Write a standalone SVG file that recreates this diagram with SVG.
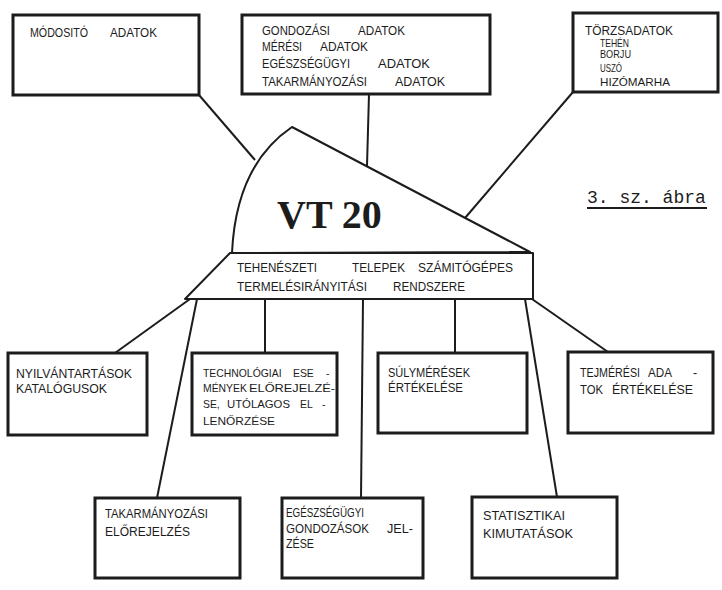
<svg xmlns="http://www.w3.org/2000/svg" width="722" height="590" viewBox="0 0 722 590">
<style>
.box{fill:#fff;stroke:#1c1c1c;stroke-width:3}
.shape{fill:#fff;stroke:#1c1c1c;stroke-width:2;stroke-linejoin:round}
.conn{stroke:#1c1c1c;stroke-width:2;fill:none}
text{font-family:"Liberation Sans",Arial,sans-serif;font-size:12.5px;fill:#1c1c1c}
.sm{font-size:11.5px}
.tc{font-size:10.4px}
.vt{font-family:"Liberation Serif","Times New Roman",serif;font-size:40px;font-weight:bold}
.cap{font-family:"Liberation Mono","Courier New",monospace;font-size:18px}
</style>
<rect width="722" height="590" fill="#fff"/>
<g id="connectors">
<line class="conn" x1="199" y1="95" x2="255" y2="160"/>
<line class="conn" x1="369" y1="94" x2="367" y2="166"/>
<line class="conn" x1="573" y1="92" x2="465" y2="218"/>
<line class="conn" x1="190" y1="299" x2="115" y2="353"/>
<line class="conn" x1="197" y1="299" x2="157" y2="498"/>
<line class="conn" x1="265" y1="299" x2="265" y2="353"/>
<line class="conn" x1="363" y1="299" x2="361" y2="498"/>
<line class="conn" x1="455" y1="299" x2="455" y2="353"/>
<line class="conn" x1="525" y1="299" x2="557" y2="497"/>
<line class="conn" x1="532" y1="299" x2="608" y2="352"/>
</g>
<g id="modosito">
<rect class="box" x="13" y="15" width="186" height="80"/>
<text x="30" y="37" textLength="58" lengthAdjust="spacingAndGlyphs">MÓDOSITÓ</text>
<text x="110" y="37" textLength="47" lengthAdjust="spacingAndGlyphs">ADATOK</text>
</g>
<g id="gondozasi">
<rect class="box" x="242" y="15" width="248" height="79"/>
<text x="262" y="35" textLength="68" lengthAdjust="spacingAndGlyphs">GONDOZÁSI</text>
<text x="358" y="35" textLength="47" lengthAdjust="spacingAndGlyphs">ADATOK</text>
<text x="262" y="51" textLength="40" lengthAdjust="spacingAndGlyphs">MÉRÉSI</text>
<text x="320" y="51" textLength="48" lengthAdjust="spacingAndGlyphs">ADATOK</text>
<text x="262" y="68" textLength="88" lengthAdjust="spacingAndGlyphs">EGÉSZSÉGÜGYI</text>
<text x="378" y="68" textLength="52" lengthAdjust="spacingAndGlyphs">ADATOK</text>
<text x="262" y="86" textLength="105" lengthAdjust="spacingAndGlyphs">TAKARMÁNYOZÁSI</text>
<text x="395" y="86" textLength="50" lengthAdjust="spacingAndGlyphs">ADATOK</text>
</g>
<g id="torzsadatok">
<rect class="box" x="573" y="13" width="145" height="79"/>
<text x="585" y="35" textLength="88" lengthAdjust="spacingAndGlyphs">TÖRZSADATOK</text>
<text class="sm" x="600" y="47" textLength="29" lengthAdjust="spacingAndGlyphs">TEHÉN</text>
<text class="sm" x="600" y="58" textLength="31" lengthAdjust="spacingAndGlyphs">BORJU</text>
<text class="sm" x="600" y="72" textLength="22" lengthAdjust="spacingAndGlyphs">USZÓ</text>
<text class="sm" x="600" y="86" textLength="70" lengthAdjust="spacingAndGlyphs">HIZÓMARHA</text>
</g>
<g id="vt20">
<path class="shape" d="M232 253 Q236 165 292 127 L530 252 Z"/>
<polygon class="shape" points="230,253 533,253 533,299 185,299"/>
<text class="vt" x="277" y="228">VT 20</text>
<text x="237" y="272" textLength="80" lengthAdjust="spacingAndGlyphs">TEHENÉSZETI</text>
<text x="352" y="272" textLength="53" lengthAdjust="spacingAndGlyphs">TELEPEK</text>
<text x="418" y="272" textLength="95" lengthAdjust="spacingAndGlyphs">SZÁMITÓGÉPES</text>
<text x="237" y="291" textLength="130" lengthAdjust="spacingAndGlyphs">TERMELÉSIRÁNYITÁSI</text>
<text x="393" y="291" textLength="72" lengthAdjust="spacingAndGlyphs">RENDSZERE</text>
</g>
<g id="abra">
<text class="cap" x="587" y="203">3. sz. ábra</text>
<line x1="587" y1="208" x2="707" y2="208" stroke="#1c1c1c" stroke-width="2"/>
</g>
<g id="nyilvantartasok">
<rect class="box" x="8" y="353" width="139" height="82"/>
<text x="16" y="378" textLength="116" lengthAdjust="spacingAndGlyphs">NYILVÁNTARTÁSOK</text>
<text x="16" y="393" textLength="91" lengthAdjust="spacingAndGlyphs">KATALÓGUSOK</text>
</g>
<g id="technologiai">
<rect class="box" x="192" y="353" width="145" height="82"/>
<text class="tc" x="203" y="377">TECHNOLÓGIAI</text>
<text class="tc" x="293" y="377">ESE</text>
<text class="tc" x="326" y="377">-</text>
<text class="tc" x="203" y="392">MÉNYEK</text>
<text class="tc" x="249" y="392" textLength="86" lengthAdjust="spacingAndGlyphs">ELŐREJELZÉ-</text>
<text class="tc" x="203" y="408">SE,</text>
<text class="tc" x="227" y="408" textLength="63" lengthAdjust="spacingAndGlyphs">UTÓLAGOS</text>
<text class="tc" x="300" y="408">EL</text>
<text class="tc" x="322" y="408">-</text>
<text class="tc" x="203" y="425" textLength="72" lengthAdjust="spacingAndGlyphs">LENŐRZÉSE</text>
</g>
<g id="sulymeresek">
<rect class="box" x="378" y="353" width="149" height="80"/>
<text x="388" y="377" textLength="82" lengthAdjust="spacingAndGlyphs">SÚLYMÉRÉSEK</text>
<text x="388" y="392" textLength="75" lengthAdjust="spacingAndGlyphs">ÉRTÉKELÉSE</text>
</g>
<g id="tejmeresi">
<rect class="box" x="568" y="352" width="145" height="81"/>
<text x="580" y="377" textLength="60" lengthAdjust="spacingAndGlyphs">TEJMÉRÉSI</text>
<text x="648" y="377" textLength="24" lengthAdjust="spacingAndGlyphs">ADA</text>
<text x="693" y="377">-</text>
<text x="580" y="394" textLength="23" lengthAdjust="spacingAndGlyphs">TOK</text>
<text x="612" y="394" textLength="81" lengthAdjust="spacingAndGlyphs">ÉRTÉKELÉSE</text>
</g>
<g id="takarmanyozasi">
<rect class="box" x="95" y="498" width="145" height="80"/>
<text x="105" y="518" textLength="103" lengthAdjust="spacingAndGlyphs">TAKARMÁNYOZÁSI</text>
<text x="105" y="536" textLength="85" lengthAdjust="spacingAndGlyphs">ELŐREJELZÉS</text>
</g>
<g id="egeszsegugyi">
<rect class="box" x="282" y="498" width="141" height="80"/>
<text x="286" y="517" textLength="78" lengthAdjust="spacingAndGlyphs">EGÉSZSÉGÜGYI</text>
<text x="286" y="533" textLength="83" lengthAdjust="spacingAndGlyphs">GONDOZÁSOK</text>
<text x="387" y="533" textLength="26" lengthAdjust="spacingAndGlyphs">JEL-</text>
<text x="286" y="548" textLength="28" lengthAdjust="spacingAndGlyphs">ZÉSE</text>
</g>
<g id="statisztikai">
<rect class="box" x="472" y="497" width="145" height="81"/>
<text x="483" y="520" textLength="82" lengthAdjust="spacingAndGlyphs">STATISZTIKAI</text>
<text x="483" y="538" textLength="90" lengthAdjust="spacingAndGlyphs">KIMUTATÁSOK</text>
</g>
</svg>
